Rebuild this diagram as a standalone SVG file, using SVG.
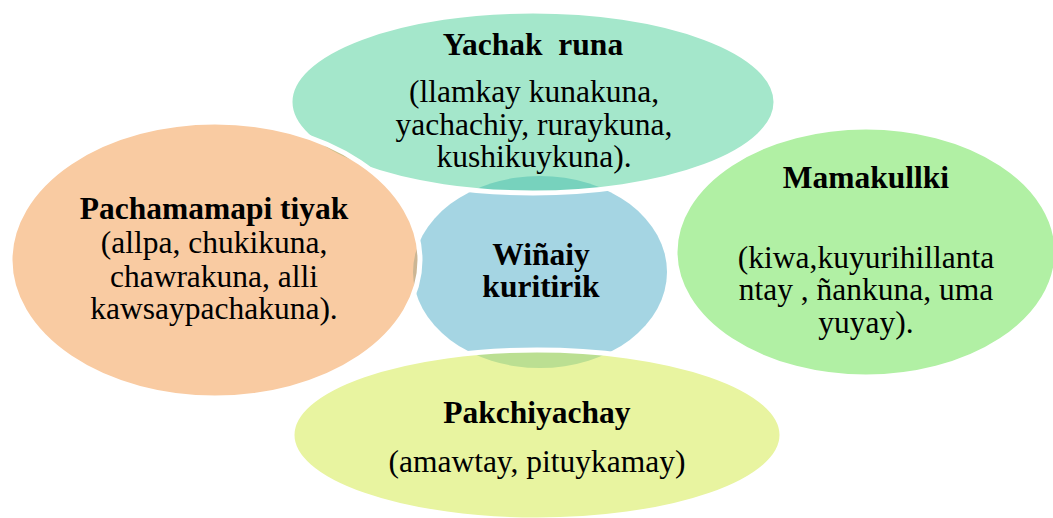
<svg xmlns="http://www.w3.org/2000/svg" width="1053" height="518" viewBox="0 0 1053 518">
<style>
.sh{stroke:#ffffff;stroke-width:5}
text{font-family:'Liberation Serif',serif;font-size:31.5px;fill:#000000;text-anchor:middle}
.b{font-weight:bold}
</style>
<rect width="1053" height="518" fill="#ffffff"/>
<g id="center">
<ellipse cx="540" cy="272" rx="127" ry="96" fill="#A5D5E3"/>
<text class="b" font-family="Liberation Serif, serif" x="541" y="265">Wiñaiy</text>
<text class="b" font-family="Liberation Serif, serif" x="541" y="297">kuritirik</text>
</g>
<g id="yachak-runa">
<ellipse class="sh" cx="533" cy="102" rx="243" ry="91" fill="#49CF97" fill-opacity="0.5"/>
<text class="b" font-family="Liberation Serif, serif" x="533" y="55" xml:space="preserve">Yachak  runa</text>
<text font-family="Liberation Serif, serif" x="534" y="102">(llamkay kunakuna,</text>
<text font-family="Liberation Serif, serif" x="534" y="135">yachachiy, ruraykuna,</text>
<text font-family="Liberation Serif, serif" x="534" y="167">kushikuykuna).</text>
</g>
<g id="mamakullki">
<ellipse class="sh" cx="866" cy="252" rx="191" ry="125" fill="#63E149" fill-opacity="0.5"/>
<text class="b" font-family="Liberation Serif, serif" x="866" y="188">Mamakullki</text>
<text font-family="Liberation Serif, serif" x="866" y="268">(kiwa,kuyurihillanta</text>
<text font-family="Liberation Serif, serif" x="866" y="300">ntay , ñankuna, uma</text>
<text font-family="Liberation Serif, serif" x="866" y="333">yuyay).</text>
</g>
<g id="pakchiyachay">
<ellipse class="sh" cx="537" cy="435" rx="245" ry="85" fill="#D1E941" fill-opacity="0.5"/>
<text class="b" font-family="Liberation Serif, serif" x="537" y="423">Pakchiyachay</text>
<text font-family="Liberation Serif, serif" x="537" y="472">(amawtay, pituykamay)</text>
</g>
<g id="pachamamapi-tiyak">
<ellipse class="sh" cx="215" cy="260" rx="205" ry="138" fill="#F39745" fill-opacity="0.5"/>
<text class="b" font-family="Liberation Serif, serif" x="214" y="219">Pachamamapi tiyak</text>
<text font-family="Liberation Serif, serif" x="214" y="253">(allpa, chukikuna,</text>
<text font-family="Liberation Serif, serif" x="214" y="287">chawrakuna, alli</text>
<text font-family="Liberation Serif, serif" x="214" y="319">kawsaypachakuna).</text>
</g>
</svg>
